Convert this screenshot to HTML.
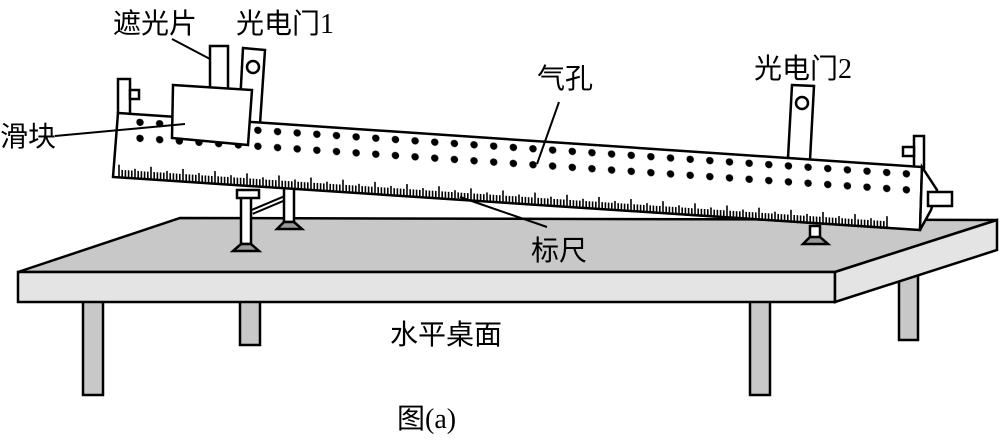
<!DOCTYPE html>
<html><head><meta charset="utf-8"><style>
html,body{margin:0;padding:0;background:#fff;width:1000px;height:440px;overflow:hidden}
svg text{font-family:"Liberation Serif","Noto Sans CJK SC",sans-serif;font-size:28px;fill:#000}
</style></head><body>
<svg width="1000" height="440" viewBox="0 0 1000 440" xmlns="http://www.w3.org/2000/svg" stroke="#000" stroke-width="2.5">
<defs>
<pattern id="pd" patternUnits="userSpaceOnUse" x="136.2" y="109.2" width="19.65" height="40">
<circle cx="3.8" cy="3.8" r="3.7" fill="#000" stroke="none"/>
<circle cx="3.8" cy="19.8" r="3.7" fill="#000" stroke="none"/>
</pattern>
</defs>
<rect x="83" y="300" width="20" height="95" fill="#c8c8c8"/>
<rect x="240" y="300" width="20" height="45" fill="#c8c8c8"/>
<rect x="750" y="300" width="20" height="95" fill="#c8c8c8"/>
<rect x="899" y="270" width="19" height="70" fill="#c8c8c8"/>
<polygon points="18,272 180,218 997,220 835,272" fill="#c8c8c8"/>
<polygon points="18,272 835,272 835,302 18,302" fill="#e4e4e4"/>
<polygon points="835,272 997,220 997,250 835,302" fill="#e4e4e4"/>
<line x1="252" y1="212" x2="290" y2="196" stroke-width="6"/>
<line x1="252" y1="212" x2="290" y2="196" stroke="#fff" stroke-width="2"/>
<rect x="284" y="188" width="10" height="34" fill="#fff"/>
<polygon points="284,222 294,222 302,229 277,229" fill="#999"/>
<rect x="241" y="197" width="10" height="47" fill="#fff"/>
<rect x="237" y="190" width="22" height="8" fill="#fff"/>
<polygon points="241,244 251,244 259,251 233,251" fill="#999"/>
<rect x="810" y="226" width="10" height="12" fill="#fff"/>
<polygon points="810,237 820,237 828,244 803,244" fill="#999"/>
<rect x="118" y="79" width="12" height="36" fill="#fff"/>
<rect x="130" y="90" width="9" height="9" fill="#fff"/>
<polygon points="243,48 265,50 260,124 239,122" fill="#fff"/>
<circle cx="253" cy="67" r="6" fill="#fff"/>
<polygon points="792,85 814,86 810,160 788,158" fill="#fff"/>
<circle cx="802" cy="103" r="6" fill="#fff"/>
<rect x="914" y="136" width="10" height="32" fill="#fff"/>
<rect x="903" y="147" width="11" height="9" fill="#fff"/>
<polygon points="118,113 922,167 920,230 113,177" fill="#fff"/>
<polygon points="922,167 937,190 931,210 920,230" fill="#fff"/>
<rect x="928" y="192" width="24" height="14" fill="#fff"/>
<g transform="skewY(3.84)">
<rect x="136.2" y="109.2" width="780" height="27" fill="url(#pd)" stroke="none"/>
<path fill="none" stroke-width="1.6" d="M119,169.7v-13m3.2,13v-8m3.2,8v-8m3.2,8v-8m3.2,8v-8m3.2,8v-10m3.2,10v-8m3.2,8v-8m3.2,8v-8m3.2,8v-8m3.2,8v-13m3.2,13v-8m3.2,8v-8m3.2,8v-8m3.2,8v-8m3.2,8v-10m3.2,10v-8m3.2,8v-8m3.2,8v-8m3.2,8v-8m3.2,8v-13m3.2,13v-8m3.2,8v-8m3.2,8v-8m3.2,8v-8m3.2,8v-10m3.2,10v-8m3.2,8v-8m3.2,8v-8m3.2,8v-8m3.2,8v-13m3.2,13v-8m3.2,8v-8m3.2,8v-8m3.2,8v-8m3.2,8v-10m3.2,10v-8m3.2,8v-8m3.2,8v-8m3.2,8v-8m3.2,8v-13m3.2,13v-8m3.2,8v-8m3.2,8v-8m3.2,8v-8m3.2,8v-10m3.2,10v-8m3.2,8v-8m3.2,8v-8m3.2,8v-8m3.2,8v-13m3.2,13v-8m3.2,8v-8m3.2,8v-8m3.2,8v-8m3.2,8v-10m3.2,10v-8m3.2,8v-8m3.2,8v-8m3.2,8v-8m3.2,8v-13m3.2,13v-8m3.2,8v-8m3.2,8v-8m3.2,8v-8m3.2,8v-10m3.2,10v-8m3.2,8v-8m3.2,8v-8m3.2,8v-8m3.2,8v-13m3.2,13v-8m3.2,8v-8m3.2,8v-8m3.2,8v-8m3.2,8v-10m3.2,10v-8m3.2,8v-8m3.2,8v-8m3.2,8v-8m3.2,8v-13m3.2,13v-8m3.2,8v-8m3.2,8v-8m3.2,8v-8m3.2,8v-10m3.2,10v-8m3.2,8v-8m3.2,8v-8m3.2,8v-8m3.2,8v-13m3.2,13v-8m3.2,8v-8m3.2,8v-8m3.2,8v-8m3.2,8v-10m3.2,10v-8m3.2,8v-8m3.2,8v-8m3.2,8v-8m3.2,8v-13m3.2,13v-8m3.2,8v-8m3.2,8v-8m3.2,8v-8m3.2,8v-10m3.2,10v-8m3.2,8v-8m3.2,8v-8m3.2,8v-8m3.2,8v-13m3.2,13v-8m3.2,8v-8m3.2,8v-8m3.2,8v-8m3.2,8v-10m3.2,10v-8m3.2,8v-8m3.2,8v-8m3.2,8v-8m3.2,8v-13m3.2,13v-8m3.2,8v-8m3.2,8v-8m3.2,8v-8m3.2,8v-10m3.2,10v-8m3.2,8v-8m3.2,8v-8m3.2,8v-8m3.2,8v-13m3.2,13v-8m3.2,8v-8m3.2,8v-8m3.2,8v-8m3.2,8v-10m3.2,10v-8m3.2,8v-8m3.2,8v-8m3.2,8v-8m3.2,8v-13m3.2,13v-8m3.2,8v-8m3.2,8v-8m3.2,8v-8m3.2,8v-10m3.2,10v-8m3.2,8v-8m3.2,8v-8m3.2,8v-8m3.2,8v-13m3.2,13v-8m3.2,8v-8m3.2,8v-8m3.2,8v-8m3.2,8v-10m3.2,10v-8m3.2,8v-8m3.2,8v-8m3.2,8v-8m3.2,8v-13m3.2,13v-8m3.2,8v-8m3.2,8v-8m3.2,8v-8m3.2,8v-10m3.2,10v-8m3.2,8v-8m3.2,8v-8m3.2,8v-8m3.2,8v-13m3.2,13v-8m3.2,8v-8m3.2,8v-8m3.2,8v-8m3.2,8v-10m3.2,10v-8m3.2,8v-8m3.2,8v-8m3.2,8v-8m3.2,8v-13m3.2,13v-8m3.2,8v-8m3.2,8v-8m3.2,8v-8m3.2,8v-10m3.2,10v-8m3.2,8v-8m3.2,8v-8m3.2,8v-8m3.2,8v-13m3.2,13v-8m3.2,8v-8m3.2,8v-8m3.2,8v-8m3.2,8v-10m3.2,10v-8m3.2,8v-8m3.2,8v-8m3.2,8v-8m3.2,8v-13m3.2,13v-8m3.2,8v-8m3.2,8v-8m3.2,8v-8m3.2,8v-10m3.2,10v-8m3.2,8v-8m3.2,8v-8m3.2,8v-8m3.2,8v-13m3.2,13v-8m3.2,8v-8m3.2,8v-8m3.2,8v-8m3.2,8v-10m3.2,10v-8m3.2,8v-8m3.2,8v-8m3.2,8v-8m3.2,8v-13m3.2,13v-8m3.2,8v-8m3.2,8v-8m3.2,8v-8m3.2,8v-10m3.2,10v-8m3.2,8v-8m3.2,8v-8m3.2,8v-8m3.2,8v-13m3.2,13v-8m3.2,8v-8m3.2,8v-8m3.2,8v-8m3.2,8v-10m3.2,10v-8m3.2,8v-8m3.2,8v-8m3.2,8v-8m3.2,8v-13"/>
</g>
<rect x="210" y="46" width="18" height="43" fill="#fff"/>
<polygon points="173,85 252,90 248,145 172,138" fill="#fff"/>
<line x1="55" y1="136" x2="185" y2="124" stroke-width="2"/>
<line x1="172" y1="39" x2="210" y2="59" stroke-width="2"/>
<line x1="559" y1="102" x2="537" y2="164" stroke-width="2"/>
<line x1="460" y1="197" x2="547" y2="227" stroke-width="2"/>
<g stroke="none">
<text x="113" y="33">遮光片</text>
<text x="236" y="33">光电门1</text>
<text x="754" y="78">光电门2</text>
<text x="537" y="88">气孔</text>
<text x="0" y="146">滑块</text>
<text x="531" y="260">标尺</text>
<text x="390" y="344">水平桌面</text>
<text x="397" y="428">图(a)</text>
</g>
</svg>
</body></html>
